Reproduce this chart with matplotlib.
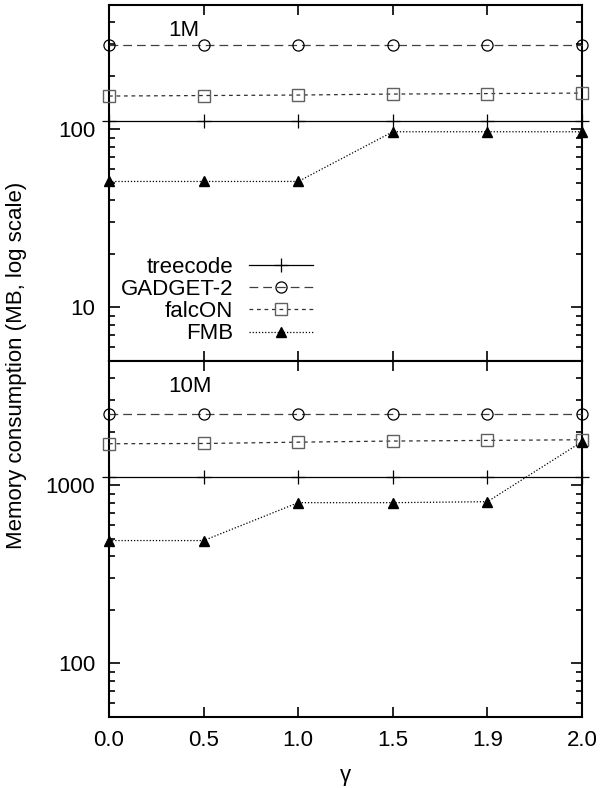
import numpy as np
import matplotlib
matplotlib.use("Agg")
import matplotlib.pyplot as plt
from matplotlib.ticker import LogLocator, NullFormatter, FixedLocator

# gamma values (plotted as evenly spaced categories)
gamma = ["0.0", "0.5", "1.0", "1.5", "1.9", "2.0"]

# 1M particles (MB)
treecode_1m = [112, 112, 112, 112, 112, 112]
gadget_1m = [297, 297, 297, 297, 297, 297]
falcon_1m = [154, 155, 156, 158, 159, 160]
fmb_1m = [51, 51, 51, 97, 97, 97]

# 10M particles (MB)
treecode_10m = [1110, 1110, 1110, 1110, 1110, 1110]
gadget_10m = [2520, 2520, 2520, 2520, 2520, 2520]
falcon_10m = [1715, 1720, 1750, 1775, 1790, 1805]
fmb_10m = [490, 490, 800, 800, 810, 1760]

plt.rcParams["font.family"] = ["Liberation Sans", "DejaVu Sans"]
plt.rcParams["font.size"] = 16

W, H = 600, 788
fig = plt.figure(figsize=(W / 100, H / 100), dpi=100)
left, right = 109, 582
ax1 = fig.add_axes([left / W, (H - 361) / H, (right - left) / W, 356 / H])
ax2 = fig.add_axes([left / W, (H - 717) / H, (right - left) / W, 356 / H])

x = np.arange(len(gamma))

styles = [
    ("treecode", dict(color="black", ls="-", lw=0.9, marker="+", ms=10, mew=0.9)),
    ("GADGET-2", dict(color="#404040", ls=(0, (7, 4)), lw=0.9, marker="o", ms=8,
                      mfc="none", mec="black", mew=0.9)),
    ("falcON", dict(color="#303030", ls=(0, (3, 3)), lw=0.9, marker="s", ms=8,
                    mfc="none", mec="#606060", mew=1.0)),
    ("FMB", dict(color="black", ls=(0, (1, 1.5)), lw=0.9, marker="^", ms=7,
                 mfc="black", mec="black")),
]

panels = [
    (ax1, [treecode_1m, gadget_1m, falcon_1m, fmb_1m], (5, 500), "1M"),
    (ax2, [treecode_10m, gadget_10m, falcon_10m, fmb_10m], (50, 5000), "10M"),
]

for ax, series, ylim, tag in panels:
    for (name, st), ys in zip(styles, series):
        ax.plot(x, ys, label=name, clip_on=False, zorder=3, **st)
    ax.set_yscale("log")
    ax.set_ylim(*ylim)
    ax.set_xlim(0, len(gamma) - 1)
    ax.yaxis.set_major_locator(LogLocator(base=10))
    ax.yaxis.set_minor_locator(LogLocator(base=10, subs=np.arange(2, 10)))
    ax.yaxis.set_minor_formatter(NullFormatter())
    ax.yaxis.set_major_formatter(plt.FuncFormatter(lambda v, p: f"{v:g}"))
    ax.xaxis.set_major_locator(FixedLocator(x))
    ax.tick_params(axis="both", which="both", direction="in", top=True, right=True,
                   width=1.2)
    ax.tick_params(axis="y", which="major", length=8, pad=10)
    ax.tick_params(axis="y", which="minor", length=4.5)
    ax.tick_params(axis="x", which="major", length=7.5, pad=9)
    for sp in ax.spines.values():
        sp.set_linewidth(1.5)
    # panel tag ("1M" / "10M")
    ax.text((168 - left) / (right - left), 1 - 26 / 356, tag, transform=ax.transAxes,
            ha="left", va="center", fontsize=16)

ax1.set_xticklabels([])
ax2.set_xticklabels(gamma)

# gnuplot-style key: label on the left, sample on the right
ax1.legend(loc="upper right", bbox_to_anchor=((313 - left) / (right - left), (361 - 257) / 356),
           frameon=False, markerfirst=False, handlelength=2.9, handletextpad=0.7,
           labelspacing=0.05, borderpad=0, borderaxespad=0, fontsize=16)

fig.text(17 / W, 1 - 365 / H, "Memory consumption (MB, log scale)", rotation=90,
         ha="center", va="center", fontsize=16)
fig.text((left + right) / 2 / W, 1 - 775 / H, "γ", ha="center", va="center", fontsize=16)

fig.savefig("out.png", dpi=100)
